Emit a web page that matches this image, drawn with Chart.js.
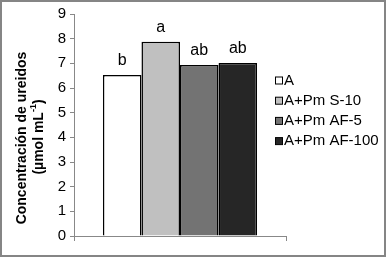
<!DOCTYPE html>
<html>
<head>
<meta charset="utf-8">
<script src="https://cdn.jsdelivr.net/npm/chart.js@4/dist/chart.umd.min.js"></script>
<style>
  html, body { margin: 0; padding: 0; background: #fff; }
  #wrap { width: 386px; height: 257px; }
</style>
</head>
<body>
<div id="wrap"><canvas id="c" width="386" height="257"></canvas></div>
<script>
const categories = [""];
const seriesNames = ["A", "A+Pm S-10", "A+Pm AF-5", "A+Pm AF-100"];
const seriesValues = [6.53, 7.87, 6.93, 7.01];
const letters = ["b", "a", "ab", "ab"];
const fills = ["#ffffff", "#c0c0c0", "#737373", "#262626"];
const yTicks = [0, 1, 2, 3, 4, 5, 6, 7, 8, 9];

const FONT = "'Liberation Sans', Arial, sans-serif";

const extras = {
    id: "extras",
    afterDraw(chart) {
        const ctx = chart.ctx;
        ctx.save();

        // letters over bars
        ctx.font = "16px " + FONT;
        ctx.fillStyle = "#000";
        ctx.textAlign = "center";
        ctx.textBaseline = "alphabetic";
        chart.data.datasets.forEach(function (ds, i) {
            const bar = chart.getDatasetMeta(i).data[0];
            ctx.fillText(letters[i], bar.x, bar.y - 10);
        });

        // y title, two lines
        ctx.save();
        ctx.translate(22, 138);
        ctx.rotate(-Math.PI / 2);
        ctx.font = "bold 14px " + FONT;
        ctx.textBaseline = "middle";
        ctx.textAlign = "center";
        ctx.fillText("Concentración de ureidos", 0, 0);
        ctx.restore();

        ctx.save();
        ctx.translate(39, 137);
        ctx.rotate(-Math.PI / 2);
        ctx.font = "bold 14px " + FONT;
        ctx.textBaseline = "middle";
        const p1 = "(µmol mL", sup = "-1", p2 = ")";
        const w1 = ctx.measureText(p1).width;
        ctx.font = "bold 9px " + FONT;
        const ws = ctx.measureText(sup).width;
        ctx.font = "bold 14px " + FONT;
        const w2 = ctx.measureText(p2).width;
        let x = -(w1 + ws + w2) / 2;
        ctx.textAlign = "left";
        ctx.fillText(p1, x, 0);
        x += w1;
        ctx.font = "bold 9px " + FONT;
        ctx.fillText(sup, x, -5);
        x += ws;
        ctx.font = "bold 14px " + FONT;
        ctx.fillText(p2, x, 0);
        ctx.restore();

        // legend
        ctx.font = "15px " + FONT;
        ctx.textAlign = "left";
        ctx.textBaseline = "middle";
        chart.data.datasets.forEach(function (ds, i) {
            const y = 80.5 + i * 20.2;
            ctx.fillStyle = ds.backgroundColor;
            ctx.fillRect(275.5, y - 3.5, 7, 7);
            ctx.strokeStyle = "#000";
            ctx.lineWidth = 1;
            ctx.strokeRect(275.5, y - 3.5, 7, 7);
            ctx.fillStyle = "#000";
            ctx.fillText(ds.label, 284, y);
        });

        // outer frame
        ctx.strokeStyle = "#858585";
        ctx.lineWidth = 2;
        ctx.strokeRect(1, 1, 384, 255);
        ctx.restore();
    }
};

new Chart(document.getElementById("c"), {
    type: "bar",
    data: {
        labels: categories,
        datasets: seriesNames.map(function (name, i) {
            return {
                label: name,
                data: [seriesValues[i]],
                backgroundColor: fills[i],
                borderColor: "#000",
                borderWidth: 1.5,
                categoryPercentage: 0.727,
                barPercentage: 1.0
            };
        })
    },
    options: {
        responsive: false,
        animation: false,
        layout: { padding: { top: 14, right: 100, bottom: 0, left: 0 } },
        plugins: { legend: { display: false }, tooltip: { enabled: false } },
        scales: {
            x: {
                grid: { offset: true, drawOnChartArea: false, drawTicks: true, tickLength: 5, color: "#888" },
                border: { color: "#888", width: 1 },
                ticks: { display: false },
                afterFit: function (s) { s.height = 21; }
            },
            y: {
                min: 0,
                max: 9,
                afterBuildTicks: function (s) { s.ticks = yTicks.map(function (v) { return { value: v }; }); },
                grid: { drawOnChartArea: false, drawTicks: true, tickLength: 4, color: "#888" },
                border: { color: "#888", width: 1 },
                ticks: { font: { family: FONT, size: 15 }, color: "#000", padding: 4 },
                afterFit: function (s) { s.width = 74; }
            }
        }
    },
    plugins: [extras]
});
</script>
</body>
</html>
